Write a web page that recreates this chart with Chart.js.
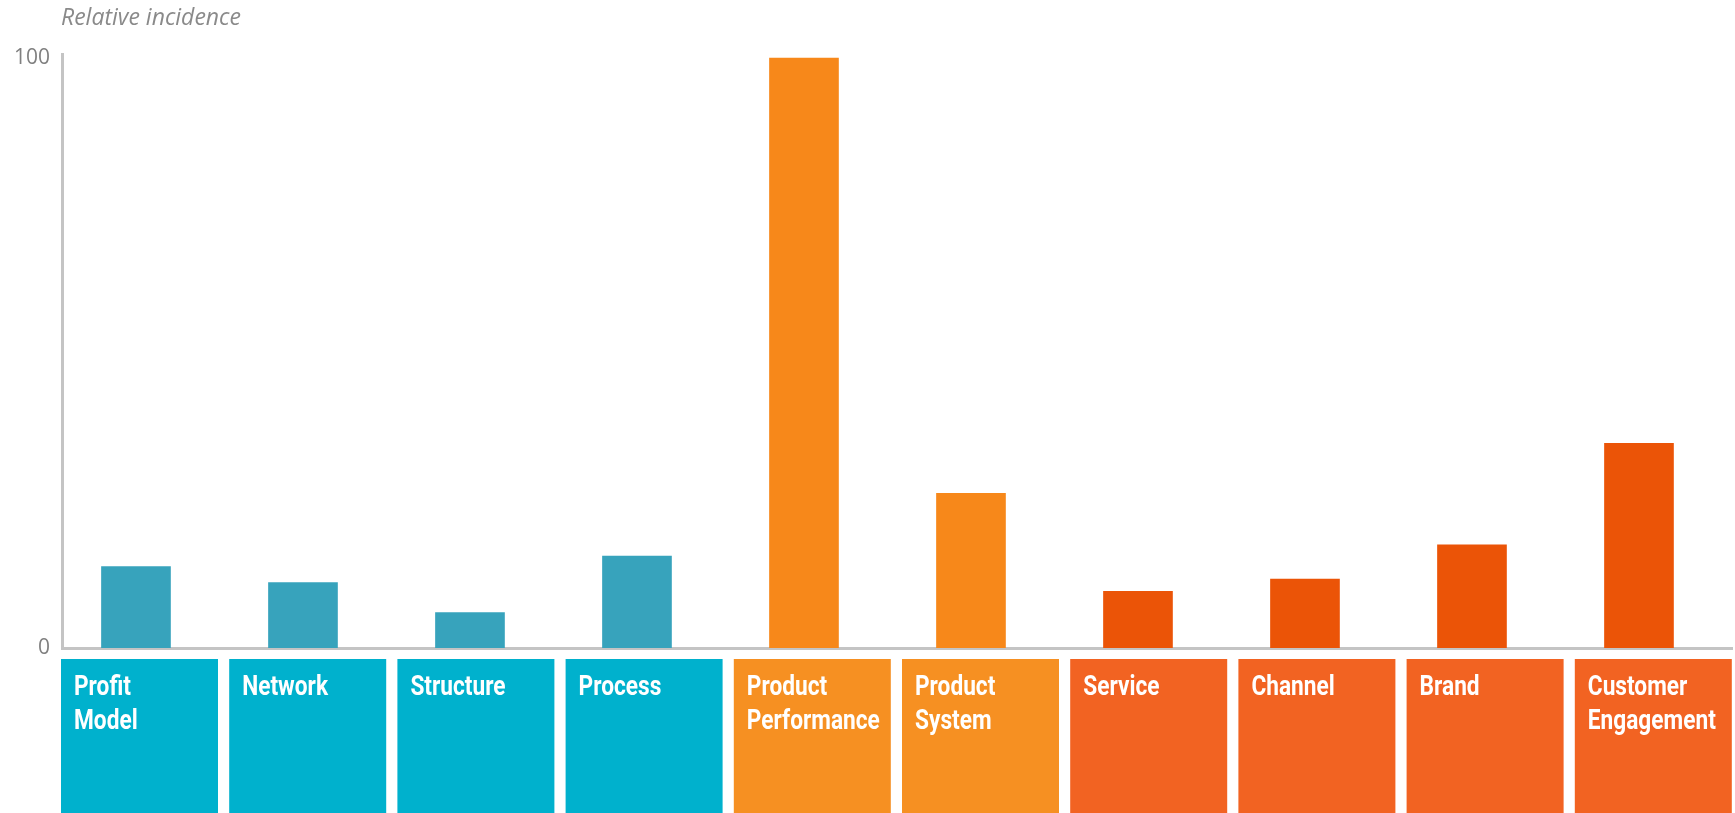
<!DOCTYPE html>
<html>
<head>
<meta charset="utf-8">
<script src="https://cdn.jsdelivr.net/npm/chart.js@4.4.1/dist/chart.umd.min.js"></script>
<style>
  html, body { margin: 0; padding: 0; background: #fff; }
  #wrap { width: 1735px; height: 813px; position: relative; }
</style>
</head>
<body>
<div id="wrap"><canvas id="myChart"></canvas></div>
<script>
// chart data
const categories = [
  ['Profit', 'Model'], ['Network'], ['Structure'], ['Process'],
  ['Product', 'Performance'], ['Product', 'System'],
  ['Service'], ['Channel'], ['Brand'], ['Customer', 'Engagement']
];
const values = [13.8, 11.1, 6.0, 15.6, 100, 26.2, 9.6, 11.7, 17.5, 34.7];
const groupOf = [0, 0, 0, 0, 1, 1, 2, 2, 2, 2];
const yTickValues = [0, 100];
const yTickLabels = ['0', '100'];
const yTitle = 'Relative incidence';

const barColors = ['#37a3bc', '#f7881a', '#eb5407'];
const boxColors = ['#00b1cd', '#f69022', '#f26322'];

// coloured category boxes under the axis
const boxPlugin = {
  id: 'boxes',
  afterDraw(chart) {
    const ctx = chart.ctx;
    const area = chart.chartArea;
    const top = area.bottom + 11;
    const step = 168.2, w = 157;
    const squeeze = 0.84; // narrow the bold face, like a condensed font
    ctx.save();
    categories.forEach((lines, i) => {
      const left = area.left - 1 + i * step;
      ctx.fillStyle = boxColors[groupOf[i]];
      ctx.fillRect(left, top, w, chart.height - top);
      ctx.fillStyle = '#ffffff';
      ctx.font = 'bold 27px Roboto, "Liberation Sans", sans-serif';
      ctx.textAlign = 'left';
      ctx.textBaseline = 'alphabetic';
      lines.forEach((t, j) => {
        ctx.save();
        ctx.translate(left + 13, top + 36 + j * 34);
        ctx.scale(squeeze, 1);
        ctx.fillText(t, 0, 0);
        ctx.restore();
      });
    });
    // axis caption
    ctx.fillStyle = '#8a8a8a';
    ctx.font = 'italic 23px "Open Sans", sans-serif';
    ctx.textBaseline = 'middle';
    ctx.fillText(yTitle, area.left - 1, 18);
    ctx.restore();
  }
};

const context = document.getElementById('myChart').getContext('2d');
const myChart = new Chart(context, {
  type: 'bar',
  data: {
    datasets: [{
      data: values.map((v, i) => ({ x: i, y: v })),
      backgroundColor: values.map((v, i) => barColors[groupOf[i]]),
      borderWidth: 0,
      barThickness: 69
    }]
  },
  options: {
    responsive: true,
    maintainAspectRatio: false,
    animation: false,
    layout: { padding: { top: 54, right: 3, bottom: 165, left: 0 } },
    plugins: { legend: { display: false }, tooltip: { enabled: false } },
    scales: {
      x: {
        type: 'linear',
        offset: false,
        min: -0.443,
        max: 9.557,
        grid: { display: false, drawTicks: false },
        border: { display: true, color: '#c4c4c4', width: 3 },
        ticks: { display: false },
        afterFit: (s) => { s.height = 0; }
      },
      y: {
        min: 0,
        max: 100.7,
        grid: { display: false, drawTicks: false },
        border: { display: true, color: '#c4c4c4', width: 3 },
        afterBuildTicks: (s) => { s.ticks = yTickValues.map(v => ({ value: v })); },
        ticks: {
          padding: 12,
          color: '#808080',
          font: { family: '"Open Sans", sans-serif', size: 21 },
          callback: (v) => yTickLabels[yTickValues.indexOf(v)]
        },
        afterFit: (s) => { s.width = 62; }
      }
    }
  },
  plugins: [boxPlugin]
});
</script>
</body>
</html>
